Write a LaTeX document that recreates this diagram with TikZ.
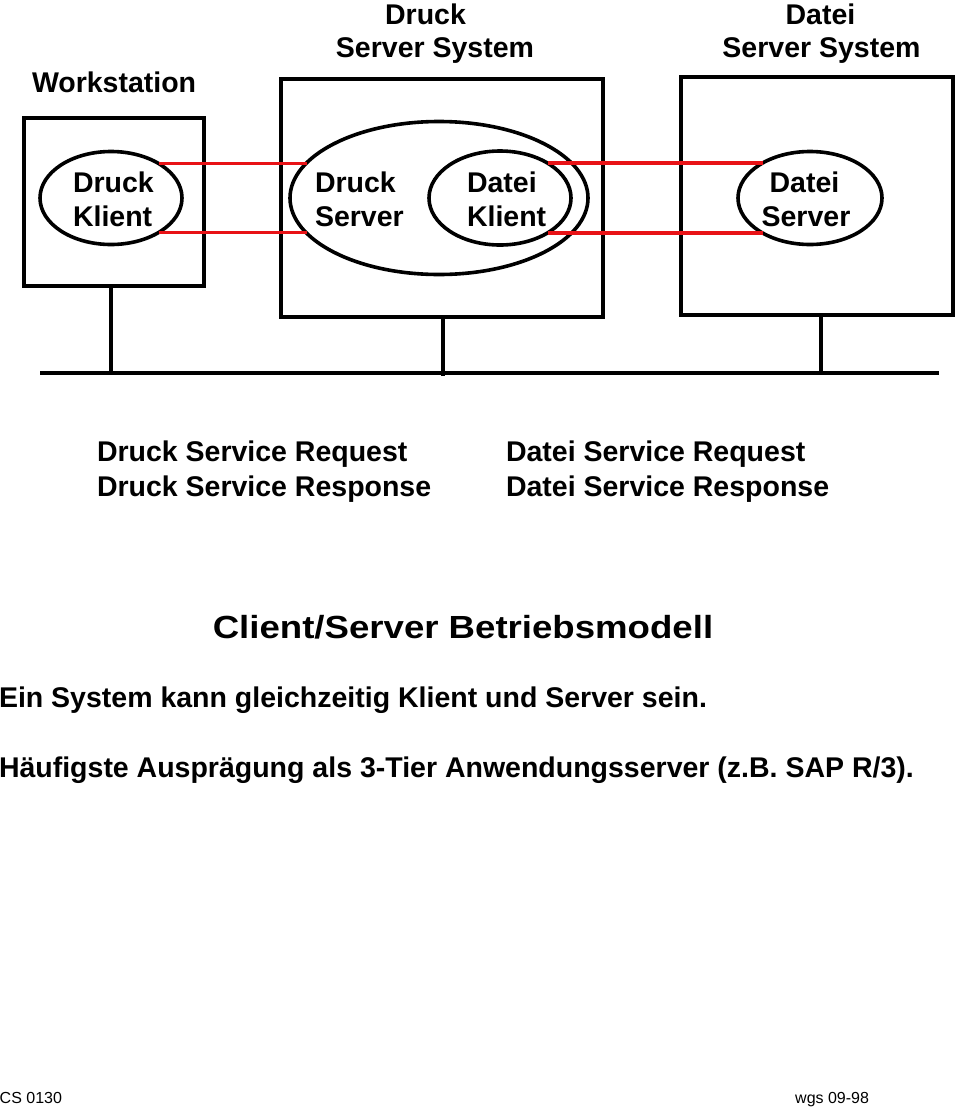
\documentclass[tikz,border=0pt]{standalone}
\usepackage{fontspec}
\usepackage{graphicx}
\setmainfont{Liberation Sans}
\usetikzlibrary{shapes.geometric}
\definecolor{linkred}{RGB}{232,18,22}
\tikzset{
  lbl/.style={font=\bfseries\fontsize{28.5}{34}\selectfont, inner sep=0pt, outer sep=0pt, anchor=base west},
  lblc/.style={lbl, anchor=base},
  foot/.style={font=\fontsize{16}{19}\selectfont, inner sep=0pt, anchor=base west},
  sysbox/.style={draw, line width=4pt, rectangle, inner sep=0pt, outer sep=0pt},
  proc/.style={draw, line width=3.6pt, ellipse, inner sep=0pt, outer sep=0pt},
  redlink/.style={draw=linkred, line width=3.8pt},
  wire/.style={draw, line width=4pt},
}
\begin{document}
\begin{tikzpicture}[x=1pt, y=-1pt]
\path[use as bounding box] (0,0) rectangle (960,1109);

% system boxes
\node[sysbox, minimum width=179.5pt, minimum height=168pt] (ws) at (113.75,202) {};
\node[sysbox, minimum width=322.5pt, minimum height=237.5pt] (dss) at (441.75,197.75) {};
\node[sysbox, minimum width=272pt, minimum height=238pt] (fss) at (817,196) {};

% process ellipses
\node[proc, minimum width=142pt, minimum height=93pt] (dk) at (111,198) {};
\node[proc, minimum width=298pt, minimum height=153pt] (ds) at (439,198) {};
\node[proc, minimum width=142pt, minimum height=94pt] (fk) at (500,198) {};
\node[proc, minimum width=144pt, minimum height=93pt] (fs) at (810,198) {};

% red links (horizontal)
\draw[redlink] (dk.36.8) -- (ds.165.2 |- dk.36.8);
\draw[redlink] (dk.-36.8) -- (ds.-165.2 |- dk.-36.8);
\draw[redlink] (fk.36.4) -- (fs.143.6 |- fk.36.4);
\draw[redlink] (fk.-36.4) -- (fs.-143.6 |- fk.-36.4);

% bus
\coordinate (busL) at (40,373);
\coordinate (busR) at (939,373);
\draw[wire] (busL) -- (busR);
\draw[wire] ([xshift=-2.75pt]ws.south) -- ([xshift=-2.75pt]ws.south |- busL);
\draw[wire] ([xshift=1.25pt]dss.south) -- ([xshift=1.25pt,yshift=-3pt]dss.south |- busL);
\draw[wire] ([xshift=4pt]fss.south) -- ([xshift=4pt]fss.south |- busL);

% titles
\node[lbl] (tws) at (32,92) {Workstation};
\node[lblc] (td1) at (425.5,24) {Druck};
\node[lblc] (td2) at (435,57) {Server System};
\node[lblc] (tf1) at (820.5,24) {Datei};
\node[lblc] (tf2) at (821.5,57) {Server System};

% ellipse labels
\node[lbl] (dk1) at (73,192) {Druck};
\node[lbl] (dk2) at (73,226) {Klient};
\node[lbl] (ds1) at (315,192) {Druck};
\node[lbl] (ds2) at (315,226) {Server};
\node[lbl] (fk1) at (467,192) {Datei};
\node[lbl] (fk2) at (467,226) {Klient};
\node[lblc] (fs1) at (804.5,192) {Datei};
\node[lblc] (fs2) at (806,226) {Server};

% service messages
\node[lbl] (m1) at (97,461) {Druck Service Request};
\node[lbl] (m2) at (97,496) {Druck Service Response};
\node[lbl] (m3) at (506,461) {Datei Service Request};
\node[lbl] (m4) at (506,496) {Datei Service Response};

% heading and text
\node[inner sep=0pt, anchor=base, font=\bfseries\fontsize{32}{38}\selectfont] (head) at (463,638) {\scalebox{1.144}[1]{Client/Server Betriebsmodell}};
\node[lbl] (s1) at (-1,707) {Ein System kann gleichzeitig Klient und Server sein.};
\node[lbl] (s2) at (-1,777) {Häufigste Ausprägung als 3-Tier Anwendungsserver (z.B. SAP R/3).};

% footer
\node[foot] (f1) at (-0.5,1103) {CS 0130};
\node[foot] (f2) at (795,1103) {wgs 09-98};
\end{tikzpicture}
\end{document}
